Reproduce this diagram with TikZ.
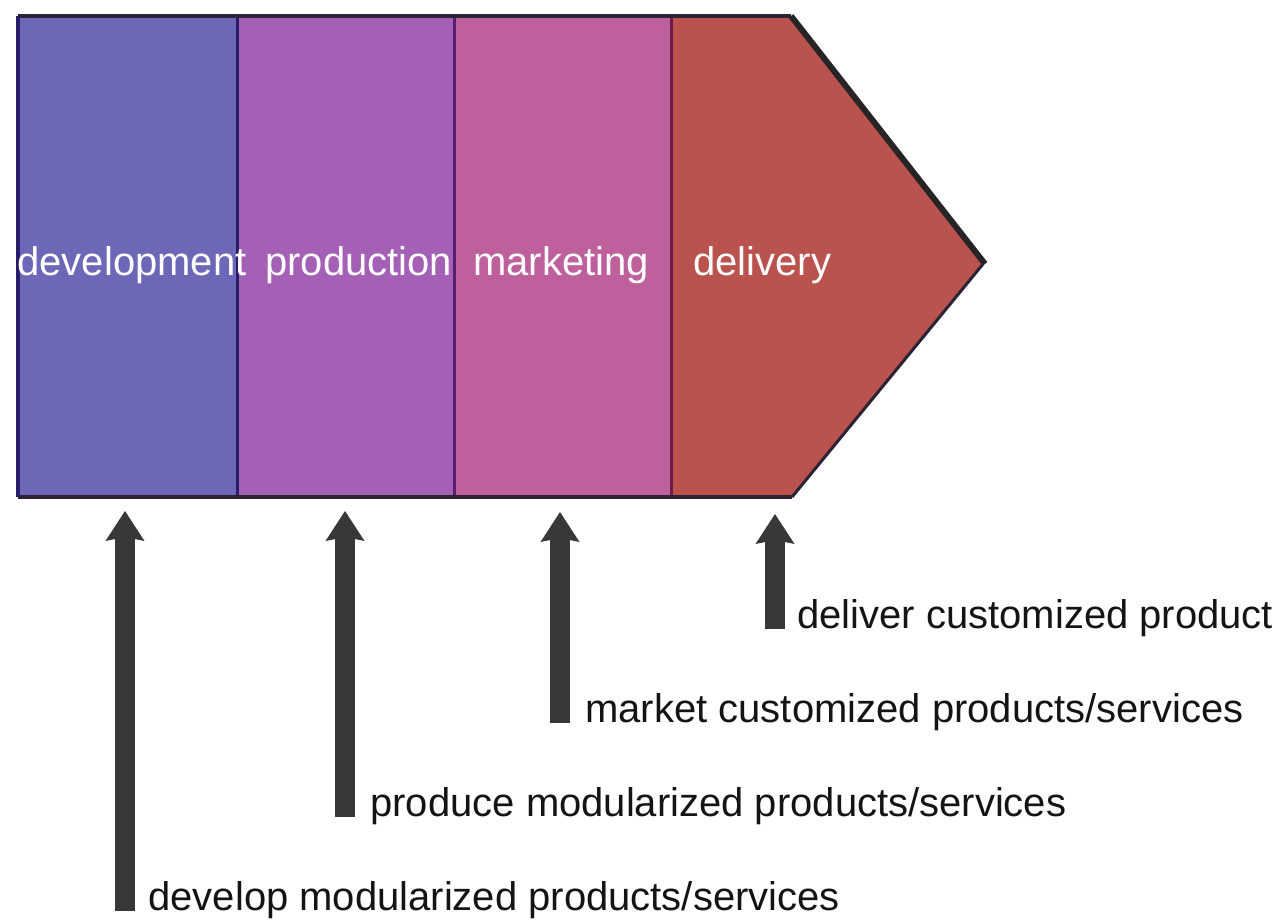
\documentclass[tikz,border=0pt]{standalone}
\usepackage{fontspec}
\setmainfont{Liberation Sans}
\usetikzlibrary{arrows.meta}
\definecolor{devfill}{RGB}{108,103,182}
\definecolor{prodfill}{RGB}{164,96,180}
\definecolor{mktfill}{RGB}{190,96,156}
\definecolor{delfill}{RGB}{186,82,78}
\definecolor{devline}{RGB}{40,30,105}
\definecolor{prodline}{RGB}{85,30,110}
\definecolor{mktline}{RGB}{110,25,70}
\definecolor{edgeline}{RGB}{45,35,55}
\definecolor{tipline}{RGB}{38,36,36}
\definecolor{arrowgray}{RGB}{58,56,54}
\definecolor{txt}{RGB}{20,20,20}
\tikzset{
  stagelabel/.style={anchor=base west, inner sep=0pt, text=white, font=\fontsize{20}{24}\selectfont},
  actlabel/.style={anchor=base west, inner sep=0pt, text=txt, font=\fontsize{20}{24}\selectfont},
  uparrow/.style={draw=arrowgray, line width=10pt, line cap=butt,
    -{Stealth[length=15pt, width=19.5pt, inset=2pt, line width=0pt]}}
}
\begin{document}
\begin{tikzpicture}[x=0.5pt,y=-0.5pt]
\useasboundingbox (0,0) rectangle (1272,920);
\clip (0,0) rectangle (1272,920);
\fill[white] (0,0) rectangle (1272,920);

% corners of the chevron
\coordinate (TL) at (18,16);
\coordinate (BL) at (18,497);
\coordinate (TR) at (791,16);
\coordinate (TIP) at (983,264);
\coordinate (BR) at (792,497);

% stage fills
\fill[devfill] (18,16) rectangle (237,497);
\fill[prodfill] (237,16) rectangle (454,497);
\fill[mktfill] (454,16) rectangle (671,497);
\fill[delfill] (671,16) -- (TR) -- (TIP) -- (BR) -- (671,497) -- cycle;

% dividers
\draw[devline, line width=1.5pt] (237,16) -- (237,497);
\draw[prodline, line width=1.5pt] (454,16) -- (454,497);
\draw[mktline, line width=1.5pt] (671,16) -- (671,497);

% outline
\draw[edgeline, line width=2pt, line join=miter] (BR) -- (BL);
\draw[devline, line width=2.2pt] (TL) -- (BL);
\draw[edgeline, line width=2.2pt, line join=miter] (TL) -- (TR);
\draw[tipline, line width=3pt, line join=miter] (TR) -- ([xshift=1pt]TIP);
\draw[edgeline, line width=1.5pt] (TIP) -- (BR);

% stage labels
\node[stagelabel] (ldev) at (17,275) {development};
\node[stagelabel] (lprod) at (265,275) {production};
\node[stagelabel] (lmkt) at (473,275) {marketing};
\node[stagelabel] (ldel) at (693,275) {delivery};

% arrows
\coordinate (t1) at (125,511);
\coordinate (t2) at (345,511);
\coordinate (t3) at (560,512);
\coordinate (t4) at (775,514);
\coordinate (b1) at (125,911);
\coordinate (b2) at (345,817);
\coordinate (b3) at (560,723);
\coordinate (b4) at (775,629);
\draw[uparrow] (b1) -- (t1);
\draw[uparrow] (b2) -- (t2);
\draw[uparrow] (b3) -- (t3);
\draw[uparrow] (b4) -- (t4);

% activity labels
\node[actlabel] (a1) at (148,910) {develop modularized products/services};
\node[actlabel] (a2) at (370,816) {produce modularized products/services};
\node[actlabel] (a3) at (585,722) {market customized products/services};
\node[actlabel] (a4) at (797,628) {deliver customized products/services};
\end{tikzpicture}
\end{document}
